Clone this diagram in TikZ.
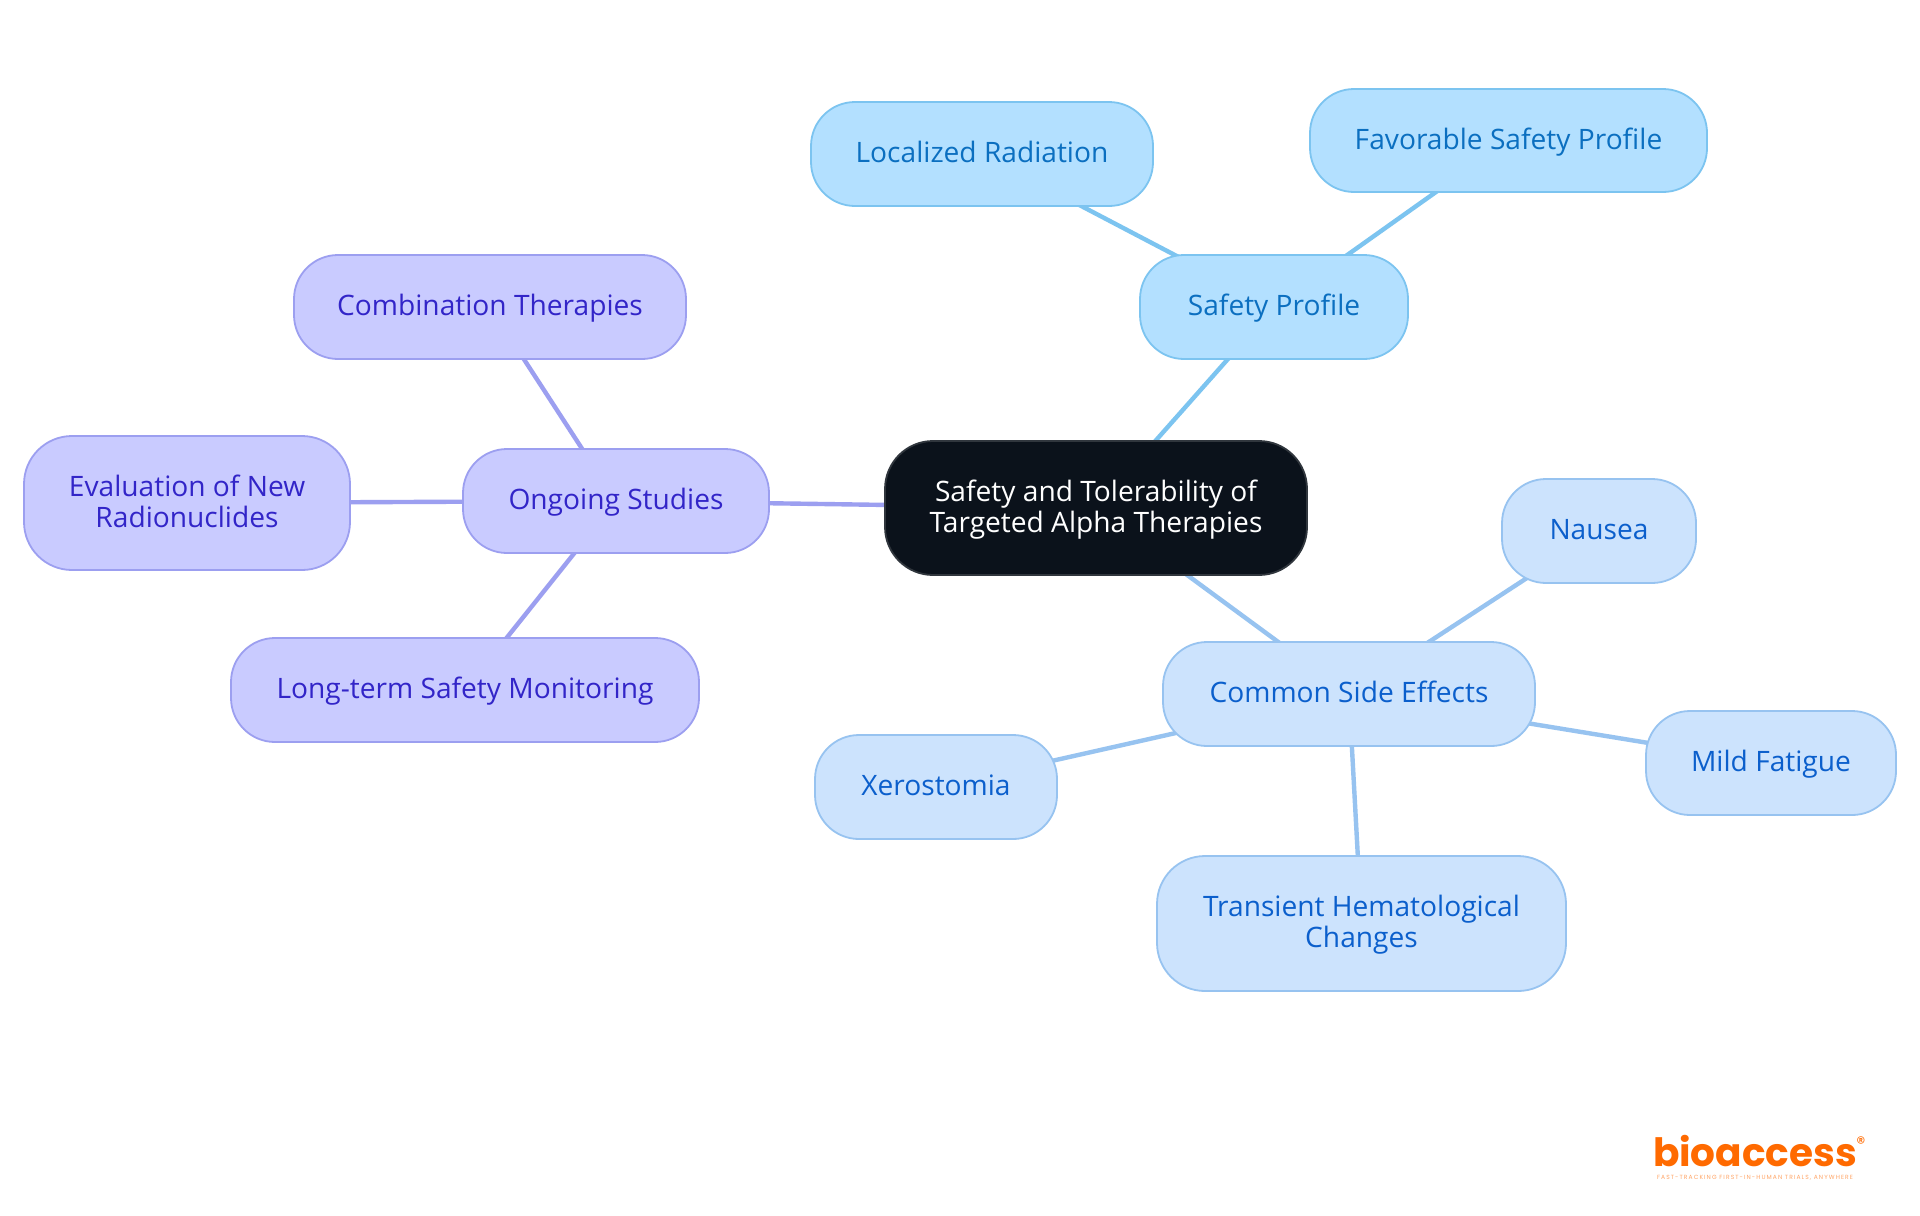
\documentclass[tikz,border=0pt]{standalone}
\usepackage{fontspec}
\setmainfont{Open Sans}
\newfontfamily\logofont{Poppins}
\newfontfamily\tagfont[LetterSpace=18]{Poppins}
\usetikzlibrary{backgrounds}
\definecolor{rootfill}{HTML}{0B121B}
\definecolor{rootline}{HTML}{30363D}
\definecolor{skyfill}{HTML}{B3E0FF}
\definecolor{skyline}{HTML}{7CC4F0}
\definecolor{skytext}{HTML}{0B6FC0}
\definecolor{bluefill}{HTML}{CCE3FD}
\definecolor{blueline}{HTML}{97C3F0}
\definecolor{bluetext}{HTML}{0B5FCC}
\definecolor{violetfill}{HTML}{C9CBFF}
\definecolor{violetline}{HTML}{9C9FF0}
\definecolor{violettext}{HTML}{3225C8}
\definecolor{logoorange}{HTML}{FF6A00}
\newcommand{\mapstrut}{\rule[-3.5pt]{0pt}{15.5pt}}
\tikzset{
 x=0.5pt,y=-0.5pt,
 mapnode/.style={rounded corners=22pt,line width=0.9pt,inner sep=0pt,outer sep=0pt,align=center,
   font=\fontsize{14.07pt}{15.5pt}\selectfont},
 tallnode/.style={rounded corners=24pt},
 rootnode/.style={mapnode,tallnode,draw=rootline,fill=rootfill,text=white},
 skynode/.style={mapnode,draw=skyline,fill=skyfill,text=skytext},
 bluenode/.style={mapnode,draw=blueline,fill=bluefill,text=bluetext},
 violetnode/.style={mapnode,draw=violetline,fill=violetfill,text=violettext},
 skylink/.style={draw=skyline,line width=2.2pt},
 bluelink/.style={draw=blueline,line width=2.2pt},
 violetlink/.style={draw=violetline,line width=2.2pt},
}
\newcommand{\mapbox}[7]{% style,name,x0,y0,x1,y1,text
 \node[#1,minimum width={(#5-#3)*0.5pt},minimum height={(#6-#4)*0.5pt}] (#2) at ({(#3+#5)/2},{(#4+#6)/2}) {#7};}
\begin{document}
\begin{tikzpicture}
\useasboundingbox (0,0) rectangle (1920,1215);
\mapbox{rootnode}{root}{885}{441}{1307}{575}{\mapstrut Safety and Tolerability of\\\mapstrut Targeted Alpha Therapies}
\mapbox{skynode}{safety}{1140}{255}{1408}{359}{\mapstrut Safety Profile}
\mapbox{skynode}{localized}{811}{102}{1153}{206}{\mapstrut Localized Radiation}
\mapbox{skynode}{favorable}{1310}{89}{1707}{192}{\mapstrut Favorable Safety Profile}
\mapbox{violetnode}{ongoing}{463}{449}{769}{553}{\mapstrut Ongoing Studies}
\mapbox{violetnode}{combination}{294}{255}{686}{359}{\mapstrut Combination Therapies}
\mapbox{violetnode,tallnode}{evaluation}{24}{436}{350}{570}{\mapstrut Evaluation of New\\\mapstrut Radionuclides}
\mapbox{violetnode}{longterm}{231}{638}{699}{742}{\mapstrut Long-term Safety Monitoring}
\mapbox{bluenode}{common}{1163}{642}{1535}{746}{\mapstrut Common Side Effects}
\mapbox{bluenode}{nausea}{1502}{479}{1696}{583}{\mapstrut Nausea}
\mapbox{bluenode}{fatigue}{1646}{711}{1896}{815}{\mapstrut Mild Fatigue}
\mapbox{bluenode,tallnode}{transient}{1157}{856}{1566}{991}{\mapstrut Transient Hematological\\\mapstrut Changes}
\mapbox{bluenode}{xerostomia}{815}{735}{1057}{839}{\mapstrut Xerostomia}
\begin{scope}[on background layer]
\fill[white] (0,0) rectangle (1920,1215);
\draw[skylink] (root.center) -- (safety.center);
\draw[skylink] (safety.center) -- (localized.center);
\draw[skylink] (safety.center) -- (favorable.center);
\draw[violetlink] (root.center) -- (ongoing.center);
\draw[violetlink] (ongoing.center) -- (combination.center);
\draw[violetlink] (ongoing.center) -- (evaluation.center);
\draw[violetlink] (ongoing.center) -- (longterm.center);
\draw[bluelink] (root.center) -- (common.center);
\draw[bluelink] (common.center) -- (nausea.center);
\draw[bluelink] (common.center) -- (fatigue.center);
\draw[bluelink] (common.center) -- (transient.center);
\draw[bluelink] (common.center) -- (xerostomia.center);
\end{scope}
\node[inner sep=0pt,text=logoorange,font=\logofont\bfseries\fontsize{19.5pt}{20pt}\selectfont] (logo) at (1755,1151.5) {bioaccess};
\node[inner sep=0pt,text=logoorange,font=\logofont\fontsize{9pt}{9pt}\selectfont] (reg) at (1861,1143) {®};
\node[inner sep=0pt,text=logoorange!60,font=\tagfont\fontsize{3pt}{3pt}\selectfont] (tag) at (1755,1178) {FAST-TRACKING FIRST-IN-HUMAN TRIALS, ANYWHERE};
\end{tikzpicture}
\end{document}
